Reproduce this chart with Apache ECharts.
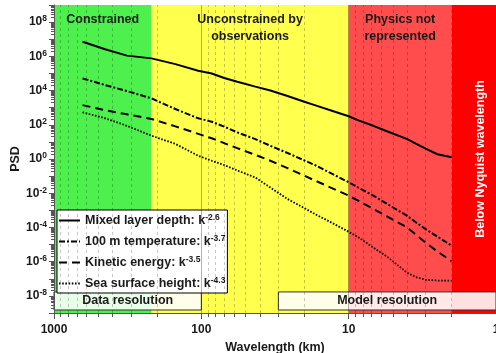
<!DOCTYPE html>
<html>
<head>
<meta charset="utf-8">
<script src="https://cdn.jsdelivr.net/npm/echarts@6/dist/echarts.min.js"></script>
<style>
  html, body { margin: 0; padding: 0; background: #fff; }
  #chart { width: 496px; height: 353px; }
</style>
</head>
<body>
<div id="chart"></div>
<script>
// wavelength (km) shared by all curves
const wavelength = [640, 450, 320, 218, 150, 105, 85, 70, 57, 43, 34, 26, 20, 17, 13, 10, 8.5, 6.8, 5.5, 4, 3.5, 3, 2.5, 2];
const mixedLayerDepth = [7.1e6, 2.6e6, 1.1e6, 7.6e5, 3.5e5, 1.45e5, 1.0e5, 5.4e4, 3.3e4, 1.7e4, 1.0e4, 4.8e3, 2.2e3, 1.4e3, 660, 316, 174, 87, 42, 14.5, 7.9, 4.0, 1.9, 1.26];
const temperature100m = [5.1e4, 2.1e4, 9.3e3, 3.5e3, 832, 240, 151, 78, 36, 14.5, 5.9, 2.24, 0.83, 0.45, 0.138, 0.044, 0.020, 7.2e-3, 2.4e-3, 4.7e-4, 2.0e-4, 7.9e-5, 2.9e-5, 8.7e-6];
const kineticEnergy = [1.41e3, 708, 407, 219, 81, 29.5, 16.2, 8.5, 4.3, 1.74, 0.79, 0.295, 0.105, 0.056, 0.020, 7.2e-3, 3.4e-3, 1.2e-3, 4.4e-4, 9.8e-5, 3.8e-5, 1.3e-5, 3.9e-6, 1.07e-6];
const seaSurfaceHeight = [537, 240, 87, 22.9, 7.6, 1.55, 0.79, 0.44, 0.214, 0.083, 0.0214, 4.6e-3, 1.35e-3, 6.2e-4, 1.86e-4, 5.6e-5, 2.5e-5, 6.6e-6, 2.0e-6, 2.2e-7, 1.26e-7, 8.7e-8, 7.9e-8, 7.8e-8];

const seriesNames = ["Mixed layer depth", "100 m temperature", "Kinetic energy", "Sea surface height"];
const slopes = ["-2.6", "-3.7", "-3.5", "-4.3"];

// axis ticks
const xMajorTicks = [1000, 100, 10, 1];
const xMinorTicks = [900, 800, 700, 600, 500, 400, 300, 200, 90, 80, 70, 60, 50, 40, 30, 20, 9, 8, 7, 6, 5, 4, 3, 2];
const yLabelTicks = [1e-8, 1e-6, 1e-4, 1e-2, 1, 1e2, 1e4, 1e6, 1e8];
const yMajorTicks = [];
const yMinorTicks = [];
for (let e = -9; e <= 8; e++) {
  yMajorTicks.push(Math.pow(10, e));
  for (let m = 2; m <= 9; m++) yMinorTicks.push(m * Math.pow(10, e));
}
yMajorTicks.push(1e9);

// regions (km)
const regions = [
  { name: "Constrained", from: 1000, to: 218, color: "rgb(77,240,77)" },
  { name: "Unconstrained by\nobservations", from: 218, to: 10, color: "rgb(255,255,77)" },
  { name: "Physics not\nrepresented", from: 10, to: 2, color: "rgb(255,77,77)" },
  { name: "Below Nyquist wavelength", from: 2, to: 1, color: "rgb(255,0,0)" },
];

const font = "'Liberation Sans', Arial, sans-serif";
const txt = "#1a1a1a";

const myChart = echarts.init(document.getElementById("chart"));

const bgData = regions.map((r, i) => {
  const label =
    i === 3
      ? { rotate: 90, position: "inside", color: "#fff", offset: [0, 7] }
      : { position: "insideTop", distance: 6, color: txt, lineHeight: 17 };
  return [
    { xAxis: r.from, name: r.name, itemStyle: { color: r.color }, label: label },
    { xAxis: r.to },
  ];
});

const lineTypes = [
  { type: "solid", width: 2 },
  { type: [6, 2, 2, 2], width: 2 },
  { type: [8, 5], width: 2 },
  { type: [1.6, 1.6], width: 1.8 },
];
const curves = [mixedLayerDepth, temperature100m, kineticEnergy, seaSurfaceHeight];

const dataSeries = curves.map((arr, i) => ({
  name: seriesNames[i],
  type: "line",
  z: 3,
  symbol: "none",
  color: "#000",
  lineStyle: { color: "#000", width: lineTypes[i].width, type: lineTypes[i].type },
  data: wavelength.map((w, j) => [w, arr[j]]),
}));

var option = {
  animation: false,
  textStyle: { fontFamily: font },
  grid: { left: 54, right: 0, top: 5, bottom: 40, containLabel: false, outerBoundsMode: "none" },
  legend: {
    data: seriesNames,
    orient: "vertical",
    left: 57,
    top: 210,
    padding: [3, 2, 2, 1],
    itemGap: 6,
    itemWidth: 21,
    itemHeight: 14,
    backgroundColor: "#fff",
    borderColor: "#000",
    borderWidth: 1,
    borderRadius: 0,
    itemStyle: { color: "rgba(0,0,0,0)", borderWidth: 0, opacity: 0 },
    formatter: (name) => name + ": k{sup|" + slopes[seriesNames.indexOf(name)] + "}",
    textStyle: {
      fontFamily: font,
      fontSize: 12.5,
      fontWeight: "bold",
      color: txt,
      lineHeight: 15,
      rich: {
        sup: { fontSize: 8.5, fontWeight: "bold", fontFamily: font, color: txt, verticalAlign: "top", lineHeight: 9 },
      },
    },
  },
  xAxis: [
    {
      type: "log",
      logBase: 10,
      inverse: true,
      min: 1,
      max: 1000,
      z: 6,
      name: "Wavelength (km)",
      nameLocation: "middle",
      nameGap: 28,
      nameMoveOverlap: false,
      nameTextStyle: { fontFamily: font, fontSize: 12.5, fontWeight: "bold", color: txt },
      axisLine: { show: true, lineStyle: { color: "#555", width: 1 } },
      axisTick: { show: true, customValues: xMajorTicks, length: 6, lineStyle: { color: "#555" } },
      axisLabel: {
        customValues: xMajorTicks,
        margin: 11,
        fontFamily: font,
        fontSize: 12,
        fontWeight: "bold",
        color: txt,
        formatter: (v) => String(Math.round(v)),
      },
      splitLine: { show: false },
    },
    {
      type: "log",
      logBase: 10,
      inverse: true,
      min: 1,
      max: 1000,
      position: "bottom",
      z: 6,
      axisLine: { show: false },
      axisTick: { show: true, customValues: xMinorTicks, length: 4, lineStyle: { color: "#555" } },
      axisLabel: { show: false },
      splitLine: { show: false },
    },
  ],
  yAxis: [
    {
      type: "log",
      logBase: 10,
      min: 1e-9,
      max: 1e9,
      z: 6,
      name: "PSD",
      nameLocation: "middle",
      nameGap: 32,
      nameMoveOverlap: false,
      nameTextStyle: { fontFamily: font, fontSize: 12.5, fontWeight: "bold", color: txt },
      axisLine: { show: true, lineStyle: { color: "#555", width: 1 } },
      axisTick: { show: true, customValues: yMajorTicks, length: 5, lineStyle: { color: "#555" } },
      axisLabel: {
        customValues: yLabelTicks,
        margin: 7,
        fontFamily: font,
        fontSize: 12,
        fontWeight: "bold",
        color: txt,
        formatter: (v) => "10{s|" + Math.round(Math.log10(v)) + "}",
        rich: {
          s: { fontSize: 8.5, fontWeight: "bold", fontFamily: font, color: txt, verticalAlign: "top", lineHeight: 9 },
        },
        lineHeight: 15,
      },
      splitLine: { show: false },
    },
    {
      type: "log",
      logBase: 10,
      min: 1e-9,
      max: 1e9,
      position: "left",
      z: 6,
      axisLine: { show: false },
      axisTick: { show: true, customValues: yMinorTicks, length: 3, lineStyle: { color: "#555" } },
      axisLabel: { show: false },
      splitLine: { show: false },
    },
  ],
  series: [
    {
      name: "bg",
      type: "line",
      z: 1,
      symbol: "none",
      lineStyle: { width: 0 },
      data: [[1000, 1e-9]],
      markArea: {
        silent: true,
        label: { fontFamily: font, fontSize: 12.5, fontWeight: "bold" },
        data: bgData,
      },
    },
    {
      name: "grid",
      type: "line",
      z: 2,
      symbol: "none",
      lineStyle: { width: 0 },
      data: [[1000, 1e-9]],
      markLine: {
        silent: true,
        symbol: ["none", "none"],
        label: { show: false },
        data: xMinorTicks
          .map((v) => ({ xAxis: v, lineStyle: { type: [3, 3], color: "rgba(0,0,0,0.22)", width: 1 } }))
          .concat(
            [100, 10].map((v) => ({ xAxis: v, lineStyle: { type: "solid", color: "rgba(0,0,0,0.3)", width: 1 } }))
          ),
      },
    },
    ...dataSeries,
    {
      name: "boxes",
      type: "line",
      z: 4,
      symbol: "none",
      lineStyle: { width: 0 },
      data: [[1000, 1e-9]],
      markArea: {
        silent: true,
        itemStyle: { color: "rgba(255,255,255,0.88)", borderColor: "#333", borderWidth: 1 },
        label: { position: "inside", fontFamily: font, fontSize: 12.5, fontWeight: "bold", color: txt },
        data: [
          [{ xAxis: 1000, yAxis: 1.7e-8, name: "Data resolution" }, { xAxis: 100, yAxis: 1.5e-9 }],
          [{ xAxis: 30, yAxis: 1.7e-8, name: "Model resolution" }, { xAxis: 1, yAxis: 1.5e-9 }],
        ],
      },
    },
  ],
};

myChart.setOption(option);
</script>
</body>
</html>
